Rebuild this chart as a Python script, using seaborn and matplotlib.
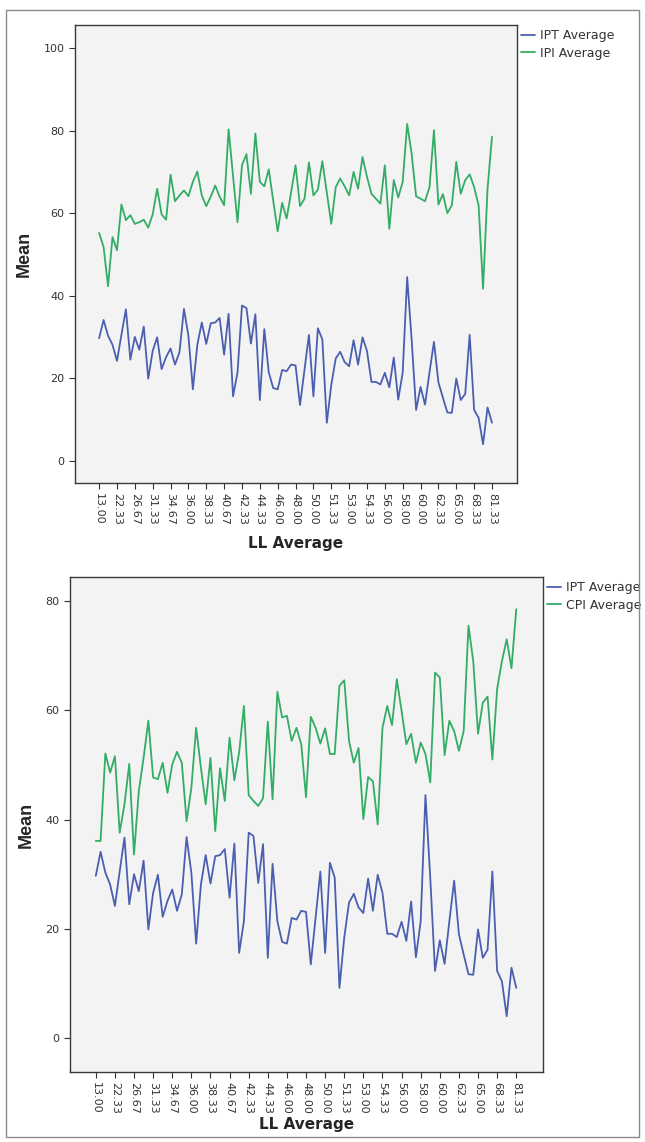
import numpy as np
import pandas as pd
import matplotlib
matplotlib.use("Agg")
import matplotlib.pyplot as plt
from matplotlib.patches import Rectangle
import seaborn as sns

# ---------------- data ----------------
tick_labels = ["13.00", "22.33", "26.67", "31.33", "34.67", "36.00", "38.33", "40.67",
               "42.33", "44.33", "46.00", "48.00", "50.00", "51.33", "53.00", "54.33",
               "56.00", "58.00", "60.00", "62.33", "65.00", "68.33", "81.33"]
tick_every = 4

ipt_avg = [29.7, 34.1, 30.3, 28.1, 24.2, 30.5, 36.7, 24.5, 30.0, 26.9,
           32.5, 19.9, 26.6, 29.9, 22.2, 25.1, 27.2, 23.3, 26.3, 36.8,
           30.3, 17.3, 28.1, 33.5, 28.3, 33.3, 33.5, 34.6, 25.7, 35.6,
           15.6, 21.4, 37.6, 37.0, 28.4, 35.5, 14.7, 31.9, 21.4, 17.6,
           17.3, 22.0, 21.7, 23.3, 23.1, 13.5, 22.0, 30.5, 15.6, 32.1,
           29.4, 9.2, 18.4, 24.8, 26.4, 23.9, 22.9, 29.2, 23.3, 29.9,
           26.6, 19.1, 19.1, 18.5, 21.3, 17.8, 25.0, 14.8, 21.4, 44.5,
           29.4, 12.3, 17.9, 13.6, 21.4, 28.8, 19.0, 15.3, 11.7, 11.6,
           19.9, 14.7, 16.2, 30.5, 12.3, 10.4, 4.0, 12.9, 9.2]

ipi_avg = [55.2, 51.8, 42.3, 54.2, 51.0, 62.1, 58.3, 59.5, 57.4, 57.8,
           58.4, 56.5, 59.7, 65.9, 59.7, 58.4, 69.3, 62.9, 64.3, 65.5,
           64.1, 67.6, 70.1, 64.3, 61.7, 64.0, 66.7, 64.0, 61.9, 80.3,
           69.0, 57.8, 71.6, 74.3, 64.7, 79.3, 67.6, 66.5, 70.6, 63.0,
           55.6, 62.5, 58.7, 65.0, 71.6, 61.7, 63.5, 72.3, 64.3, 65.7,
           72.6, 65.0, 57.4, 66.3, 68.4, 66.5, 64.3, 70.0, 65.9, 73.6,
           68.8, 64.7, 63.5, 62.3, 71.6, 56.2, 68.0, 63.8, 67.6, 81.6,
           74.4, 64.1, 63.5, 62.9, 66.3, 80.1, 62.1, 64.6, 60.0, 61.9,
           72.4, 64.7, 68.0, 69.4, 66.3, 61.9, 41.7, 65.9, 78.5]

cpi_avg = [36.1, 36.1, 52.1, 48.6, 51.6, 37.6, 42.8, 50.2, 33.6, 45.2,
           51.3, 58.1, 47.7, 47.4, 50.4, 44.9, 50.1, 52.4, 50.4, 39.7,
           45.8, 56.8, 49.5, 42.8, 51.3, 37.9, 49.4, 43.4, 55.0, 47.2,
           52.3, 60.8, 44.5, 43.4, 42.5, 43.9, 57.9, 43.7, 63.4, 58.7,
           59.0, 54.4, 56.8, 53.8, 44.1, 58.8, 56.8, 53.9, 56.7, 52.0,
           52.0, 64.5, 65.5, 54.4, 50.4, 53.1, 40.1, 47.8, 47.0, 39.1,
           56.8, 60.8, 57.3, 65.7, 59.9, 53.8, 55.7, 50.4, 54.1, 52.0,
           46.8, 66.9, 66.0, 51.8, 58.1, 56.2, 52.6, 56.2, 75.5, 69.0,
           55.7, 61.4, 62.5, 51.0, 63.9, 69.0, 73.0, 67.7, 78.5]

BLUE = "#4b5fb1"
GREEN = "#33ad66"

# ---------------- figure ----------------
sns.set_style("ticks")
plt.rcParams['font.family'] = ['DejaVu Sans']

W, H = 645, 1142
fig = plt.figure(figsize=(W / 100, H / 100), dpi=100)
fig.patch.set_facecolor("white")


def rect(l, r, t, b):
    return [l / W, 1 - b / H, (r - l) / W, (b - t) / H]


# outer border
fig.patches.append(Rectangle((6 / W, 1 - 1137 / H), (639 - 6) / W, (1137 - 10) / H,
                             transform=fig.transFigure, fill=False,
                             edgecolor="#8a8a8a", linewidth=1.0))

panels = [
    dict(rect=rect(75, 517, 25, 483), series=[("IPT Average", ipt_avg, BLUE),
                                              ("IPI Average", ipi_avg, GREEN)],
         ylim=(-5.4, 105.6), yticks=[0, 20, 40, 60, 80, 100], xpad=8),
    dict(rect=rect(70, 543, 577, 1072), series=[("IPT Average", ipt_avg, BLUE),
                                                ("CPI Average", cpi_avg, GREEN)],
         ylim=(-6.2, 84.4), yticks=[0, 20, 40, 60, 80], xpad=2),
]

n = len(ipt_avg)
for p in panels:
    ax = fig.add_axes(p["rect"])
    ax.set_facecolor("#f3f3f3")
    frames = []
    for name, vals, col in p["series"]:
        frames.append(pd.DataFrame({"idx": np.arange(n), "Mean": vals, "Series": name}))
    df = pd.concat(frames, ignore_index=True)
    palette = {name: col for name, _, col in p["series"]}
    sns.lineplot(data=df, x="idx", y="Mean", hue="Series", palette=palette,
                 linewidth=1.3, ax=ax, legend=True)
    ax.set_xlim(-5.4, n - 1 + 5.6)
    ax.set_ylim(*p["ylim"])
    ax.set_yticks(p["yticks"])
    ax.set_yticklabels([str(v) for v in p["yticks"]], fontsize=8, color="#333333")
    ax.set_xticks(np.arange(0, n, tick_every))
    ax.set_xticklabels(tick_labels, rotation=-90, fontsize=8, color="#333333")
    ax.tick_params(axis="both", direction="out", length=4, width=0.8, color="#333333")
    for s in ax.spines.values():
        s.set_visible(True)
        s.set_color("#3a3a3a")
        s.set_linewidth(1.0)
    ax.set_xlabel("LL Average", fontsize=11, fontweight="bold", labelpad=p["xpad"])
    ax.set_ylabel("Mean", fontsize=13, fontweight="bold", labelpad=8,
                  family=["Liberation Sans Narrow", "Liberation Sans", "DejaVu Sans"])
    leg = ax.legend(loc="upper left", bbox_to_anchor=(1.0, 1.0), frameon=False,
                    fontsize=9, handlelength=1.1, handletextpad=0.35,
                    labelspacing=0.35, borderaxespad=0.1, borderpad=0.25)
    for line in leg.get_lines():
        line.set_linewidth(1.3)
    for t in leg.get_texts():
        t.set_color("#333333")

fig.savefig("out.png", dpi=100, facecolor="white")
